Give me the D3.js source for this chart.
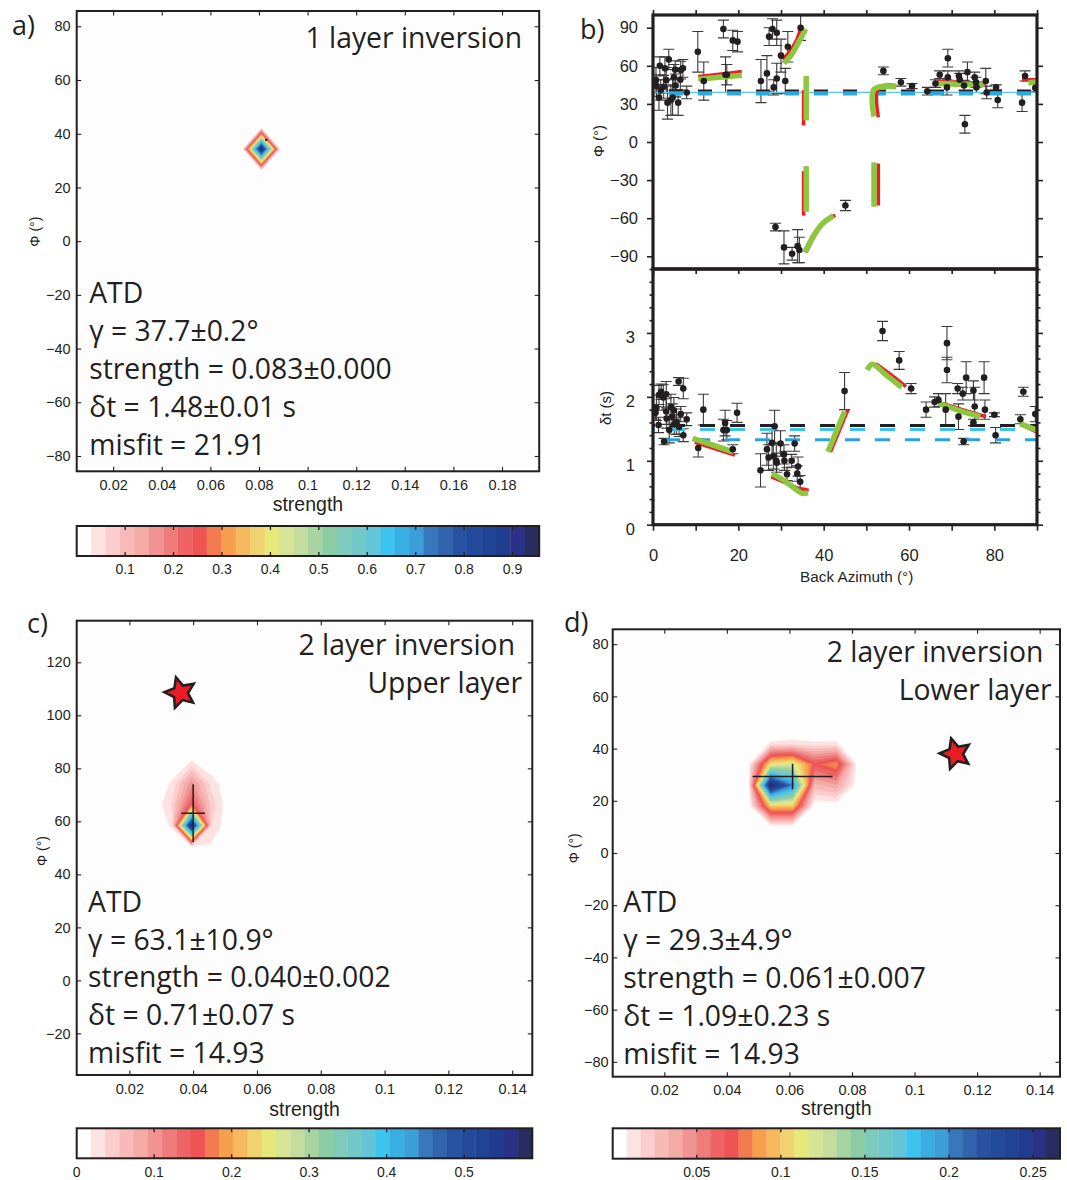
<!DOCTYPE html>
<html>
<head>
<meta charset="utf-8">
<script src="https://cdn.jsdelivr.net/npm/d3@7"></script>
<style>
  html,body{margin:0;padding:0;background:#fff;}
  svg{display:block;}
</style>
</head>
<body>
<svg id="fig" width="1067" height="1180" xmlns="http://www.w3.org/2000/svg"></svg>
<script>
// ====================== DATA ======================
const colormap = ["#ffffff","#fde2e2","#fbcdcd","#f8b9b9","#f4aaa5","#f29393","#ef7b7b","#ee6464",
  "#ee5454","#f27b4f","#f6a04f","#f8b95e","#f1d271","#e8e87a","#d6e495","#c4dd9d",
  "#a7d4a1","#8bcca4","#7fcbbb","#72c7c9","#63c5d6","#3cc3ee","#39aee3","#3b9ed9",
  "#3777bb","#3264ad","#2753a2","#234a9b","#1f4496","#1e3d8e","#2b3186","#272d5e"];

// ---- panel a (1 layer) ----
const aStrengthTicks = [0.02,0.04,0.06,0.08,0.1,0.12,0.14,0.16,0.18];
const aPhiTicks = [-80,-60,-40,-20,0,20,40,60,80];
const aColorTicks = [0.1,0.2,0.3,0.4,0.5,0.6,0.7,0.8,0.9];
const aGridStrength = [0.0652,0.0731,0.081,0.0889,0.0968];
const aGridPhi = [50.5,42.4,34.3,26.2,18.1];          // top -> bottom
const aGridValues = [
  [0,0,0,0,0],
  [0,0,0,0,0],
  [0,0,0.955,0,0],
  [0,0,0,0,0],
  [0,0,0,0,0]];
const aMax = 0.955;
const aBest = {s:0.083, phi:37.7, sErr:0.0004, phiErr:0.4};
const aStats = ["ATD","γ = 37.7±0.2°","strength = 0.083±0.000","δt = 1.48±0.01 s","misfit = 21.91"];

// ---- panel c (2 layer, upper) ----
const cStrengthTicks = [0.02,0.04,0.06,0.08,0.1,0.12,0.14];
const cPhiTicks = [-20,0,20,40,60,80,100,120];
const cColorTicks = [0,0.1,0.2,0.3,0.4,0.5];
const cGridStrength = [0.0275,0.0335,0.0395,0.0455,0.0515];
const cGridPhi = [90.4,82.4,74.4,66.4,58.4,50.4,42.4];
const cGridValues = [
  [0,0,0,0,0],
  [0,0,0.02,0,0],
  [0,0.022,0.10,0.03,0],
  [0,0.04,0.15,0.05,0],
  [0,0.022,0.588,0.038,0],
  [0,0,0.01,0.015,0],
  [0,0,0,0,0]];
const cMax = 0.588;
const cCross = {s:0.040, phi:63.1, sErr:0.0037, phiErr:10.9};
const cStar = {s:0.036, phi:108.5};
const cStats = ["ATD","γ = 63.1±10.9°","strength = 0.040±0.002","δt = 0.71±0.07 s","misfit = 14.93"];

// ---- panel d (2 layer, lower) ----
const dStrengthTicks = [0.02,0.04,0.06,0.08,0.1,0.12,0.14];
const dPhiTicks = [-80,-60,-40,-20,0,20,40,60,80];
const dColorTicks = [0.05,0.1,0.15,0.2,0.25];
const dGridStrength = [0.040,0.047,0.054,0.061,0.068,0.075,0.082,0.089];
const dGridPhi = [50,42,34,26,18,10];
const dGridValues = [
  [0,0,0,0,0,0,0,0],
  [0,0,0.009,0.01,0.009,0.009,0,0],
  [0,0.005,0.11,0.12,0.07,0.085,0,0],
  [0,0.005,0.266,0.20,0.03,0.04,0,0],
  [0,0,0.10,0.10,0,0,0,0],
  [0,0,0,0,0,0,0,0]];
const dMax = 0.266;
const dCross = {s:0.061, phi:29.3, sErr:0.0128, phiErr:4.9};
const dStar = {s:0.1131, phi:38};
const dStats = ["ATD","γ = 29.3±4.9°","strength = 0.061±0.007","δt = 1.09±0.23 s","misfit = 14.93"];

// ---- panel b (back-azimuth) ----
const bazTicks = [0,10,20,30,40,50,60,70,80,90];
const bazLabels = [0,20,40,60,80];
const phiTicksB = [-90,-60,-30,0,30,60,90];
const dtTicksB = [0,1,2,3];
const dtMinorTicksB = [0.2,0.4,0.6,0.8,1.2,1.4,1.6,1.8,2.2,2.4,2.6,2.8,3.2,3.4,3.6,3.8,4];

const phiBaz = [0.7,0.8,1.4,1.6,1.8,2.5,2.8,3.1,3.4,3.7,4.2,4.6,4.9,5.2,5.3,5.9,6.4,6.5,7.0,7.9,
  10.5,11.9,16.5,17.0,17.3,18.7,19.8,
  25.3,26.7,27.2,28.0,28.3,29.0,29.0,30.0,31.0,31.6,34.6,
  28.7,30.7,32.6,33.9,34.3,
  45.1,54.0,58.1,60.7,64.3,66.2,67.2,68.9,69.1,69.1,71.7,71.9,72.9,73.1,73.7,75.4,75.7,75.8,78.0,78.2,80.4,80.8,86.5,87.2,89.6];
const phiVal = [48.7,44,35,60,41,43.5,58,48.7,31,65,33,35,51,57,44.5,31,49,56.6,58,39,
  71,48,89,53,53,80,79,
  48,54,83,89,43,86,50,68,48,75,90,
  -67,-83,-88,-82,-85,
  -50,56,47,44,40,46,53,43,66,51,52,49,44.5,14,55,51,47,43,48,39,43,33,31,52,42.6];
const phiErr = [10,8,10,7,8,9,9,10,13,8,12,14,10,7,9,10,8,7,7,5,
  16,15,7,14,8,8,8,
  17,14,7,8,6,10,12,13,10,12,10,
  3,13,5,13,10,
  4,3,3,2,3,3,3,6,7,5,4,5,4,7,8,4,4,4,10,5,2,6,7,4,3];

const dtBaz = [0.6,0.8,1.3,1.4,1.9,2.4,2.6,3.1,3.1,3.2,3.8,4.2,4.5,4.9,5.0,5.5,6.0,6.1,6.5,7.1,7.1,7.9,
  10.6,11.8,16.5,16.9,17.3,18.7,19.7,
  25.2,26.7,27.1,27.9,28.2,28.5,28.9,29.0,29.9,30.7,30.8,31.4,32.5,33.2,33.8,34.0,34.5,
  44.9,53.8,57.7,60.5,64.0,66.0,66.9,68.6,68.9,68.9,71.4,71.6,72.6,72.8,73.4,75.1,75.1,75.4,77.6,77.8,80.0,80.3,86.1,86.8,89.6];
const dtVal = [1.75,1.83,1.56,2.03,2.08,1.99,1.30,2.04,1.77,1.66,1.48,1.84,1.69,1.79,1.57,1.61,2.24,1.53,1.73,2.13,1.40,1.65,
  1.20,1.80,1.48,1.59,1.48,1.18,1.75,
  0.85,1.18,1.05,1.28,1.07,1.54,1.00,0.97,1.27,1.10,1.00,0.79,1.00,1.27,0.80,0.91,0.67,
  2.09,3.03,2.57,2.13,1.80,1.92,1.95,1.80,2.84,2.42,2.13,1.69,2.05,1.30,2.30,2.10,1.60,1.85,2.30,1.80,1.72,1.40,1.65,2.08,1.73];
const dtErr = [0.1,0.2,0.12,0.15,0.12,0.2,0.05,0.2,0.2,0.15,0.2,0.2,0.2,0.2,0.15,0.2,0.06,0.15,0.12,0.16,0.1,0.1,
  0.14,0.24,0.17,0.2,0.15,0.07,0.15,
  0.26,0.25,0.2,0.2,0.2,0.25,0.25,0.15,0.2,0.15,0.15,0.1,0.1,0.12,0.12,0.15,0.1,
  0.29,0.15,0.14,0.08,0.12,0.08,0.1,0.25,0.26,0.2,0.08,0.2,0.1,0.05,0.25,0.15,0.05,0.3,0.25,0.15,0.03,0.12,0.07,0.07,0.12];

const phiModelRed = [
  [[10.6,51.5],[15.5,53.3],[20.8,55.5]],
  [[30.4,65],[32,71],[33.5,79],[34.6,89]],
  [[35.3,41],[35.3,13]],
  [[35.3,-23],[35.3,-58]],
  [[36.0,-86],[38,-73],[40,-64],[42.7,-57.5]],
  [[52.8,-17],[52.8,-50]],
  [[52.8,19.5],[52.8,42.5],[57,44.5]],
  [[66.5,47.5],[72,47],[77.8,46.2]],
  [[86.5,49],[90,49]]];
const phiModelGreen = [
  [[10.6,49.5],[15.5,51],[20.8,52.5]],
  [[30.7,62],[32.5,69],[34.2,79],[35.8,89]],
  [[35.9,52],[35.9,17]],
  [[35.9,-19],[35.9,-55]],
  [[35.6,-87],[37.6,-74],[39.5,-65],[42.3,-58]],
  [[51.8,-16],[51.8,-51]],
  [[51.8,20],[51.8,41.5],[57,43.5]],
  [[66.5,46],[72,45.5],[77.5,45]],
  [[88,46.5],[90,47.5]]];
const dtModelRed = [
  [[9.8,1.29],[19.2,1.09]],
  [[27.7,0.75],[31,0.66],[34,0.57],[36.5,0.54]],
  [[41.6,1.14],[45.7,1.80]],
  [[52.2,2.52],[55.5,2.36],[59.3,2.16]],
  [[67.2,1.91],[72.5,1.80],[78,1.69]],
  [[86.5,1.56],[90,1.45]]];
const dtModelGreen = [
  [[9.3,1.35],[18.8,1.14]],
  [[27.9,0.80],[30.5,0.70],[32.8,0.59],[35,0.49],[36.3,0.50]],
  [[41,1.14],[44.9,1.77]],
  [[50.2,2.42],[51.4,2.51],[54.5,2.35],[58.3,2.15]],
  [[66.9,1.90],[72,1.78],[76.7,1.69]],
  [[86,1.58],[90,1.48]]];

const phiRefBlack = 40.3, phiRefBlue = 38.3, phiRefThin = 39.0;
const dtRefBlack = 1.55, dtRefLight = 1.49, dtRefBlue = 1.33;

// ====================== DRAW ======================
const INK = "#231f20";
const TICKFONT = "'Liberation Sans', Arial, sans-serif";
const TEXTFONT = "'Open Sans', 'Noto Sans', sans-serif";
const svg = d3.select("#fig");
svg.append("rect").attr("width",1067).attr("height",1180).attr("fill","#fff");
const defs = svg.append("defs");
const fmtSigned = d => (d < 0 ? "\u2212" + Math.abs(d) : String(d));

function styleAxis(sel, size, sw) {
  sel.attr("font-family", TICKFONT).attr("font-size", size).attr("color", INK);
  sel.select(".domain").remove();
  sel.selectAll(".tick line").attr("stroke", INK).attr("stroke-width", sw);
  sel.selectAll(".tick text").attr("fill", INK);
}

function starPath(R, r, rot) {
  const pts = [];
  for (let k = 0; k < 10; k++) {
    const a = (-90 + rot + k * 36) * Math.PI / 180;
    const rad = k % 2 ? r : R;
    pts.push([rad * Math.cos(a), rad * Math.sin(a)]);
  }
  return "M" + pts.map(p => p[0].toFixed(2) + "," + p[1].toFixed(2)).join("L") + "Z";
}

function mapPanel(cfg) {
  const g = svg.append("g");
  const xs = cfg.xs, ys = cfg.ys;
  const [x0, x1] = xs.range(), [y0, y1] = ys.range();
  const cid = "clip" + cfg.id;
  defs.append("clipPath").attr("id", cid).append("rect")
    .attr("x", x0).attr("y", y1).attr("width", x1 - x0).attr("height", y0 - y1);
  g.append("rect").attr("x", x0).attr("y", y1).attr("width", x1 - x0).attr("height", y0 - y1).attr("fill", "#fdfdfd");

  // contour field
  const nx = cfg.gridS.length, ny = cfg.gridPhi.length;
  const phiAsc = cfg.gridPhi.slice().reverse();
  const values = cfg.gridV.slice().reverse().flat();
  const ds = cfg.gridS[1] - cfg.gridS[0], dp = phiAsc[1] - phiAsc[0];
  const n = colormap.length;
  const thresholds = d3.range(1, n).map(i => i * cfg.max / n);
  const contours = d3.contours().size([nx, ny]).thresholds(thresholds)(values);
  const proj = d3.geoTransform({point(x, y) {
    this.stream.point(xs(cfg.gridS[0] + (x - 0.5) * ds), ys(phiAsc[0] + (y - 0.5) * dp));
  }});
  const path = d3.geoPath(proj);
  const cg = g.append("g").attr("clip-path", `url(#${cid})`);
  cg.selectAll("path").data(contours).join("path")
    .attr("d", path).attr("fill", (d, i) => colormap[i + 1])
    .attr("stroke", (d, i) => colormap[i + 1]).attr("stroke-width", 0.3)
    .attr("fill-rule", "evenodd");

  // best-fit cross
  const c = cfg.cross;
  cg.append("path")
    .attr("d", `M${xs(c.s - c.sErr)},${ys(c.phi)}H${xs(c.s + c.sErr)}M${xs(c.s)},${ys(c.phi - c.phiErr)}V${ys(c.phi + c.phiErr)}`)
    .attr("stroke", INK).attr("stroke-width", cfg.crossW || 1.5).attr("fill", "none");

  if (cfg.star) {
    g.append("path").attr("d", starPath(16, 7.6, -16))
      .attr("transform", `translate(${xs(cfg.star.s)},${ys(cfg.star.phi)})`)
      .attr("fill", "#ed1c24").attr("stroke", INK).attr("stroke-width", 2.6).attr("stroke-linejoin", "miter");
  }

  // text
  cfg.title.forEach((t, i) => {
    g.append("text").attr("x", t[1]).attr("y", t[2]).attr("text-anchor", "end")
      .attr("font-family", TEXTFONT).attr("font-size", 28.3).attr("fill", INK).text(t[0]);
  });
  cfg.stats.forEach((t, i) => {
    g.append("text").attr("x", cfg.statsX).attr("y", cfg.statsY0 + i * 37.8)
      .attr("font-family", TEXTFONT).attr("font-size", 28.3).attr("fill", INK).text(t);
  });
  svg.append("text").attr("x", cfg.letter[1]).attr("y", cfg.letter[2])
    .attr("font-family", TEXTFONT).attr("font-size", 27).attr("fill", INK).text(cfg.letter[0]);

  // axes
  const TS = 4.5;
  g.append("g").attr("transform", `translate(${x0},0)`)
    .call(d3.axisLeft(ys).tickValues(cfg.yticks).tickSize(-TS).tickPadding(cfg.ylabPad).tickFormat(fmtSigned))
    .call(s => styleAxis(s, 14.5, 1.1));
  g.append("g").attr("transform", `translate(${x1},0)`)
    .call(d3.axisRight(ys).tickValues(cfg.yticks).tickSize(-TS).tickFormat(""))
    .call(s => styleAxis(s, 14.5, 1.1));
  g.append("g").attr("transform", `translate(0,${y1})`)
    .call(d3.axisTop(xs).tickValues(cfg.xticks).tickSize(-TS).tickFormat(""))
    .call(s => styleAxis(s, 14.5, 1.1));
  g.append("g").attr("transform", `translate(0,${y0})`)
    .call(d3.axisBottom(xs).tickValues(cfg.xticks).tickSize(-TS).tickPadding(8.5).tickFormat(d => String(d)))
    .call(s => styleAxis(s, 14.5, 1.1));
  g.append("rect").attr("x", x0).attr("y", y1).attr("width", x1 - x0).attr("height", y0 - y1)
    .attr("fill", "none").attr("stroke", INK).attr("stroke-width", 2);

  // axis titles
  g.append("text").attr("x", (x0 + x1) / 2).attr("y", cfg.xlabY).attr("text-anchor", "middle")
    .attr("font-family", TICKFONT).attr("font-size", 19.5).attr("fill", INK).text("strength");
  g.append("text").attr("transform", `translate(${cfg.ylab[0]},${cfg.ylab[1]}) rotate(-90)`)
    .attr("text-anchor", "middle").attr("dominant-baseline", "central")
    .attr("font-family", TICKFONT).attr("font-size", 14).attr("fill", INK).text("\u03A6 (\u00B0)");

  // colorbar
  const cb = d3.scaleLinear([0, cfg.max], [x0, x1]);
  const cbY = cfg.cbY, cbH = cfg.cbH;
  const cbg = g.append("g");
  cbg.selectAll("rect.seg").data(colormap).join("rect").attr("class", "seg")
    .attr("x", (d, i) => cb(i * cfg.max / n)).attr("y", cbY)
    .attr("width", (d, i) => cb((i + 1) * cfg.max / n) - cb(i * cfg.max / n) + 0.4)
    .attr("height", cbH).attr("fill", d => d);
  const inner = cfg.cticks.filter(v => v > 0 && v < cfg.max);
  cbg.selectAll("path.ct").data(inner).join("path").attr("class", "ct")
    .attr("d", v => `M${cb(v)},${cbY}v4M${cb(v)},${cbY + cbH}v-4`)
    .attr("stroke", INK).attr("stroke-width", 1.3);
  cbg.selectAll("text").data(cfg.cticks).join("text")
    .attr("x", v => cb(v)).attr("y", cfg.cbLabY).attr("text-anchor", "middle")
    .attr("font-family", TICKFONT).attr("font-size", 14).attr("fill", INK).text(v => String(v));
  cbg.append("rect").attr("x", x0).attr("y", cbY).attr("width", x1 - x0).attr("height", cbH)
    .attr("fill", "none").attr("stroke", INK).attr("stroke-width", 2);
}

// ---- panel a ----
mapPanel({
  id: "A", xs: d3.scaleLinear([0.005, 0.1953], [76.7, 539.2]), ys: d3.scaleLinear([-85.7, 85.7], [471.3, 11]),
  xticks: aStrengthTicks, yticks: aPhiTicks, ylabPad: 6,
  gridS: aGridStrength, gridPhi: aGridPhi, gridV: aGridValues, max: aMax,
  cross: aBest, crossW: 2.2, star: null,
  title: [["1 layer inversion", 522, 48.3]],
  stats: aStats, statsX: 89.2, statsY0: 303.3,
  letter: ["a)", 12, 35],
  xlabY: 511, ylab: [34.6, 231.7],
  cticks: aColorTicks, cbY: 526, cbH: 30, cbLabY: 574
});
// ---- panel c ----
mapPanel({
  id: "C", xs: d3.scaleLinear([0.0035, 0.1463], [76.7, 532.3]), ys: d3.scaleLinear([-35.7, 135.7], [1075, 620.7]),
  xticks: cStrengthTicks, yticks: cPhiTicks, ylabPad: 6,
  gridS: cGridStrength, gridPhi: cGridPhi, gridV: cGridValues, max: cMax,
  cross: cCross, star: cStar,
  title: [["2 layer inversion", 515, 655], ["Upper layer", 522, 693.3]],
  stats: cStats, statsX: 88.1, statsY0: 911.7,
  letter: ["c)", 27, 633],
  xlabY: 1116, ylab: [42.3, 851],
  cticks: cColorTicks, cbY: 1128.3, cbH: 30, cbLabY: 1176.5
});
// ---- panel d ----
mapPanel({
  id: "D", xs: d3.scaleLinear([0.0035, 0.1465], [612.7, 1060]), ys: d3.scaleLinear([-85.7, 85.7], [1076.7, 629.3]),
  xticks: dStrengthTicks, yticks: dPhiTicks, ylabPad: 4,
  gridS: dGridStrength, gridPhi: dGridPhi, gridV: dGridValues, max: dMax,
  cross: dCross, star: dStar,
  title: [["2 layer inversion", 1043.3, 662.3], ["Lower layer", 1051.7, 700]],
  stats: dStats, statsX: 623.3, statsY0: 912.3,
  letter: ["d)", 564, 632],
  xlabY: 1115, ylab: [574, 848.3],
  cticks: dColorTicks, cbY: 1128.3, cbH: 30.4, cbLabY: 1176.5
});

// ---- panel b ----
const xB = d3.scaleLinear([0, 90], [653, 1037]);
const yPhi = d3.scaleLinear([-100, 100], [269, 15]);
const yDt = d3.scaleLinear([0, 4], [524.7, 269]);
const gB = svg.append("g");
svg.append("text").attr("x", 580).attr("y", 39).attr("font-family", TEXTFONT)
  .attr("font-size", 27).attr("fill", INK).text("b)");

function bSubpanel(id, ys, baz, val, err, red, green, refs) {
  const [y0, y1] = ys.range();
  defs.append("clipPath").attr("id", id).append("rect")
    .attr("x", 653).attr("y", y1).attr("width", 384).attr("height", y0 - y1);
  const g = gB.append("g").attr("clip-path", `url(#${id})`);
  g.append("rect").attr("x", 653).attr("y", y1).attr("width", 384).attr("height", y0 - y1).attr("fill", "#fff");
  const data = baz.map((b, i) => ({b, v: val[i], e: err[i]}));
  g.selectAll("path.eb").data(data).join("path").attr("class", "eb")
    .attr("d", d => {
      const x = xB(d.b), ya = ys(d.v - d.e), yb = ys(d.v + d.e);
      return `M${x},${ya}V${yb}M${x - 5.5},${ya}h11M${x - 5.5},${yb}h11`;
    })
    .attr("stroke", "#3a3a3a").attr("stroke-width", 1.1).attr("fill", "none");
  refs.forEach(r => {
    g.append("line").attr("x1", xB(0)).attr("x2", xB(90)).attr("y1", ys(r.v)).attr("y2", ys(r.v))
      .attr("stroke", r.c).attr("stroke-width", r.w).attr("stroke-dasharray", r.dash)
      .attr("stroke-dashoffset", r.off);
  });
  const line = d3.line().x(d => xB(d[0])).y(d => ys(d[1])).curve(d3.curveCatmullRom.alpha(0.5));
  g.selectAll("path.red").data(red).join("path").attr("class", "red").attr("d", line)
    .attr("fill", "none").attr("stroke", "#ed1c24").attr("stroke-width", 3.6);
  g.selectAll("path.grn").data(green).join("path").attr("class", "grn").attr("d", line)
    .attr("fill", "none").attr("stroke", "#8dc63f").attr("stroke-width", 5.5);
  g.selectAll("circle").data(data).join("circle")
    .attr("cx", d => xB(d.b)).attr("cy", d => ys(d.v)).attr("r", 3.3).attr("fill", INK);
}

bSubpanel("clipBT", yPhi, phiBaz, phiVal, phiErr, phiModelRed, phiModelGreen, [
  {v: phiRefThin, c: "#5bc3ef", w: 1.2, dash: null, off: 0},
  {v: phiRefBlack, c: INK, w: 2.6, dash: "14,15", off: 13},
  {v: phiRefBlue, c: "#29abe2", w: 4.2, dash: "14,15", off: 13}]);
bSubpanel("clipBB", yDt, dtBaz, dtVal, dtErr, dtModelRed, dtModelGreen, [
  {v: dtRefBlack, c: INK, w: 3, dash: "15,15", off: 13},
  {v: dtRefLight, c: "#3ec3f0", w: 3, dash: "15,15", off: 13},
  {v: dtRefBlue, c: "#2aa2dc", w: 3, dash: "15,15", off: 18}]);

// b axes
const BF = 16.5, BW = 1.6;
gB.append("g").attr("transform", "translate(653,0)")
  .call(d3.axisLeft(yPhi).tickValues(phiTicksB).tickSize(6).tickPadding(9).tickFormat(fmtSigned))
  .call(s => styleAxis(s, BF, BW));
gB.append("g").attr("transform", "translate(1037,0)")
  .call(d3.axisRight(yPhi).tickValues(phiTicksB).tickSize(6).tickFormat(""))
  .call(s => styleAxis(s, BF, BW));
gB.append("g").attr("transform", "translate(0,15)")
  .call(d3.axisTop(xB).tickValues(bazTicks).tickSize(5).tickFormat(""))
  .call(s => styleAxis(s, BF, BW));
gB.append("g").attr("transform", "translate(0,269)")
  .call(d3.axisBottom(xB).tickValues(bazTicks).tickSize(5).tickFormat(""))
  .call(s => styleAxis(s, BF, BW));
gB.append("g").attr("transform", "translate(653,0)")
  .call(d3.axisLeft(yDt).tickValues(dtTicksB).tickSize(6).tickPadding(12).tickFormat(d => String(d)))
  .call(s => { styleAxis(s, BF, BW); s.selectAll("text").attr("dy", "0.6em"); });
gB.append("g").attr("transform", "translate(653,0)")
  .call(d3.axisLeft(yDt).tickValues(dtMinorTicksB).tickSize(3.5).tickFormat(""))
  .call(s => styleAxis(s, BF, BW));
gB.append("g").attr("transform", "translate(1037,0)")
  .call(d3.axisRight(yDt).tickValues(dtTicksB).tickSize(6).tickFormat(""))
  .call(s => styleAxis(s, BF, BW));
gB.append("g").attr("transform", "translate(1037,0)")
  .call(d3.axisRight(yDt).tickValues(dtMinorTicksB).tickSize(3.5).tickFormat(""))
  .call(s => styleAxis(s, BF, BW));
gB.append("g").attr("transform", "translate(0,524.7)")
  .call(d3.axisBottom(xB).tickValues(bazTicks).tickSize(6).tickPadding(19)
    .tickFormat(d => bazLabels.includes(d) ? String(d) : ""))
  .call(s => styleAxis(s, BF, BW));
gB.append("rect").attr("x", 653).attr("y", 15).attr("width", 384).attr("height", 254)
  .attr("fill", "none").attr("stroke", INK).attr("stroke-width", 3.2);
gB.append("rect").attr("x", 653).attr("y", 269).attr("width", 384).attr("height", 255.7)
  .attr("fill", "none").attr("stroke", INK).attr("stroke-width", 3.2);
gB.append("text").attr("x", 856.7).attr("y", 581.7).attr("text-anchor", "middle")
  .attr("font-family", TICKFONT).attr("font-size", 15.3).attr("fill", INK).text("Back Azimuth (\u00B0)");
gB.append("text").attr("transform", "translate(598.3,141) rotate(-90)").attr("text-anchor", "middle")
  .attr("dominant-baseline", "central").attr("font-family", TICKFONT).attr("font-size", 15).attr("fill", INK)
  .text("\u03A6 (\u00B0)");
gB.append("text").attr("transform", "translate(605,408) rotate(-90)").attr("text-anchor", "middle")
  .attr("dominant-baseline", "central").attr("font-family", TICKFONT).attr("font-size", 15).attr("fill", INK)
  .text("\u03B4t (s)");
</script>
</body>
</html>
